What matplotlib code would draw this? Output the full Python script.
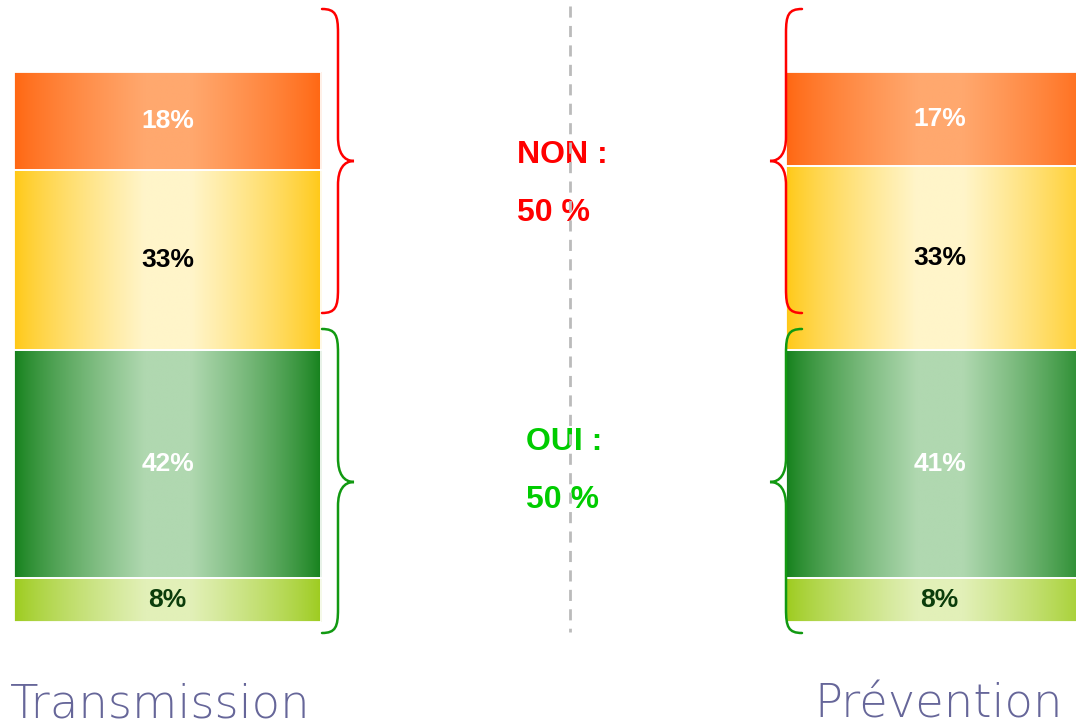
import numpy as np
import matplotlib
matplotlib.use("Agg")
import matplotlib.pyplot as plt
from matplotlib.path import Path
from matplotlib.patches import PathPatch
from matplotlib.colors import to_rgb

# ---------------- data ----------------
groups = ["Transmission", "Prévention"]
segment_names = ["Oui tout à fait", "Oui plutôt", "Non plutôt pas", "Non pas du tout"]  # bottom -> top
transmission_values = [8, 42, 33, 18]
prevention_values = [8, 41, 33, 17]
summary_labels = [("NON :", "50 %"), ("OUI :", "50 %")]

# ---------------- styles ----------------
edge_colors = ["#9CCB1C", "#13801A", "#FFC814", "#FF6611"]
center_colors = ["#E2F0B8", "#B0D8B0", "#FFF5CA", "#FFA86E"]
label_colors = ["#0B3D0B", "white", "black", "white"]
title_color = "#666699"

fig = plt.figure(figsize=(10.76, 7.24), dpi=100)
ax = fig.add_axes([0, 0, 1, 1])
ax.axis("off")

x_pos = np.arange(len(groups))
bar_width = 0.3977
series = [transmission_values, prevention_values]


def gradient_image(edge, center, n=256):
    u = np.linspace(0, 1, n)
    t = np.clip((1 - np.abs(2 * u - 1)) / 0.85, 0, 1) ** 0.8
    e = np.array(to_rgb(edge))
    c = np.array(to_rgb(center))
    img = e[None, :] + (c - e)[None, :] * t[:, None]
    return img[None, :, :]


for gi, vals in enumerate(series):
    vals = np.array(vals, dtype=float)
    norm = vals / vals.sum() * 100
    bottoms = np.concatenate([[0], np.cumsum(norm)[:-1]])
    bars = ax.bar([x_pos[gi]] * len(norm), norm, width=bar_width, bottom=bottoms,
                  facecolor="none", edgecolor="white", linewidth=1.3, zorder=3)
    for si, patch in enumerate(bars):
        x0 = patch.get_x()
        w = patch.get_width()
        y0 = patch.get_y()
        h = patch.get_height()
        im = ax.imshow(gradient_image(edge_colors[si], center_colors[si]),
                       extent=(x0, x0 + w, y0, y0 + h), aspect="auto",
                       interpolation="bilinear", zorder=2)
        im.set_clip_path(patch)
        ax.text(x0 + w / 2, y0 + h / 2, f"{int(vals[si])}%", ha="center", va="center",
                fontsize=19, fontweight="bold", family="Liberation Sans",
                color=label_colors[si], zorder=4)

ax.set_xlim(-0.217, 1.1768)
ax.set_ylim(-18.545, 113.09)

# ---------------- decorations (pixel overlay) ----------------
ov = fig.add_axes([0, 0, 1, 1], facecolor="none")
ov.set_xlim(0, 1076)
ov.set_ylim(724, 0)
ov.axis("off")

ov.plot([570, 570], [6, 632], color="#BBBBBB", linewidth=2, linestyle=(0, (4, 3)), zorder=5)


def brace(axx, x_end, x_tip, y_top, y_bot, y_tip, color, r=24):
    xm = (x_end + x_tip) / 2
    ka = x_end + (xm - x_end) * 0.85
    kb = xm + (x_tip - xm) * 0.35
    verts = [
        (x_end, y_top),
        (ka, y_top), (xm, y_top + r * 0.25), (xm, y_top + r),
        (xm, y_tip - r),
        (xm, y_tip - r * 0.35), (kb, y_tip), (x_tip, y_tip),
        (kb, y_tip), (xm, y_tip + r * 0.35), (xm, y_tip + r),
        (xm, y_bot - r),
        (xm, y_bot - r * 0.25), (ka, y_bot), (x_end, y_bot),
    ]
    codes = [Path.MOVETO,
             Path.CURVE4, Path.CURVE4, Path.CURVE4,
             Path.LINETO,
             Path.CURVE4, Path.CURVE4, Path.CURVE4,
             Path.CURVE4, Path.CURVE4, Path.CURVE4,
             Path.LINETO,
             Path.CURVE4, Path.CURVE4, Path.CURVE4]
    axx.add_patch(PathPatch(Path(verts, codes), facecolor="none", edgecolor=color,
                            linewidth=1.8, capstyle="round", zorder=6))


red = "#FF0000"
green = "#119911"
brace(ov, 322, 354, 9, 313, 161, red)
brace(ov, 322, 354, 329, 633, 482, green)
brace(ov, 802, 770, 9, 313, 161, red)
brace(ov, 802, 770, 329, 633, 482, green)

ov.text(517, 163, summary_labels[0][0], ha="left", va="baseline", fontsize=23,
        fontweight="bold", family="Liberation Sans", color=red, zorder=4)
ov.text(517, 221, summary_labels[0][1], ha="left", va="baseline", fontsize=23,
        fontweight="bold", family="Liberation Sans", color=red, zorder=4)
ov.text(526, 450, summary_labels[1][0], ha="left", va="baseline", fontsize=23,
        fontweight="bold", family="Liberation Sans", color="#00CC00", zorder=4)
ov.text(526, 508, summary_labels[1][1], ha="left", va="baseline", fontsize=23,
        fontweight="bold", family="Liberation Sans", color="#00CC00", zorder=4)

ov.text(10, 717, groups[0], ha="left", va="baseline", fontsize=33.5, fontweight="light",
        family="DejaVu Sans", color=title_color)
ov.text(814, 717, groups[1], ha="left", va="baseline", fontsize=33.5, fontweight="light",
        family="DejaVu Sans", color=title_color)

fig.savefig("out.png", dpi=100)
